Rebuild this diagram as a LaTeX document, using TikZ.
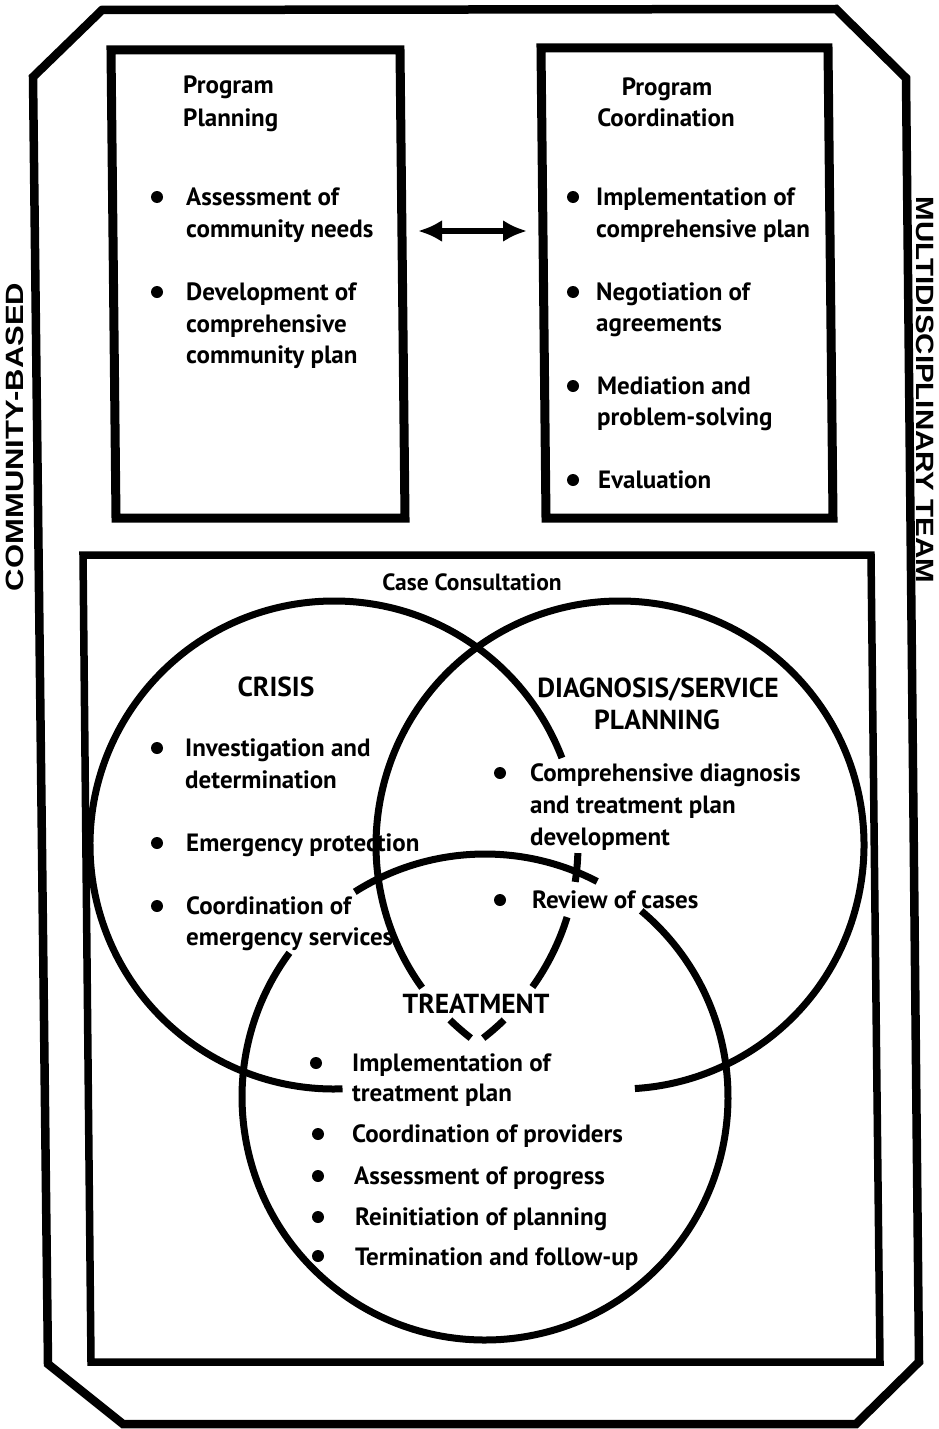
\documentclass[tikz,border=0pt]{standalone}
\usepackage{fontspec}
\usepackage{graphicx}
\setmainfont{PT Sans}
\newfontfamily\sidefam{Liberation Sans}
\usetikzlibrary{arrows.meta,calc}
\newcommand\bodyf{\bfseries\fontsize{25}{29}\selectfont}
\newcommand\smallf{\bfseries\fontsize{23.5}{27}\selectfont}
\newcommand\capf{\bfseries\fontsize{27.5}{31}\selectfont}
\newcommand\sidef{\sidefam\bfseries\fontsize{25}{29}\selectfont}
\tikzset{
  outerline/.style={line width=8.5pt, line join=miter},
  pbox/.style={line width=9pt, line join=miter},
  cbox/.style={line width=7.5pt, line join=miter},
  circ/.style={line width=7pt, line cap=butt},
  bul/.style={circle, fill=black, inner sep=0pt, minimum size=12pt},
  tx/.style={anchor=base west, inner sep=0pt, font=\bodyf},
  hc/.style={anchor=base, inner sep=0pt, font=\bodyf},
  capc/.style={anchor=base, inner sep=0pt, font=\capf},
  sidelab/.style={inner sep=0pt, font=\sidef},
  arr/.style={line width=5.5pt, {Latex[length=24pt,width=22pt]}-{Latex[length=24pt,width=22pt]}}
}
\begin{document}
\begin{tikzpicture}[x=1pt,y=-1pt]
\useasboundingbox (0,0) rectangle (938,1429);
\fill[white] (0,0) rectangle (938,1429);

% outer octagon
\draw[outerline] (102,10) -- (836,9) -- (906,78) -- (919,1362) -- (856,1424) -- (123,1424) -- (48,1364) -- (33,77) -- cycle;

% program boxes
\draw[pbox] (111,50) -- (400,50) -- (405,518) -- (116,518) -- cycle;
\draw[pbox] (541,48) -- (828,48) -- (833,518) -- (546,518) -- cycle;

% case box
\draw[cbox] (83,555) -- (871,555) -- (880,1362) -- (91,1362) -- cycle;

% side labels
\node[sidelab, rotate=90] (sl) at (15,437) {\scalebox{1.24}[1]{COMMUNITY-BASED}};
\node[sidelab, rotate=-90] (sr) at (925,390) {\scalebox{1.18}[1]{MULTIDISCIPLINARY TEAM}};

% Program Planning
\node[tx] (pp1) at (183,93) {Program};
\node[tx] (pp2) at (183,126) {Planning};
\node[bul] (b11) at (157,197) {};
\node[tx] (t11a) at (186,205) {Assessment of};
\node[tx] (t11b) at (186,237) {community needs};
\node[bul] (b12) at (157,292) {};
\node[tx] (t12a) at (186,300) {Development of};
\node[tx] (t12b) at (186,332) {comprehensive};
\node[tx] (t12c) at (186,363) {community plan};

% Program Coordination
\node[hc] (pc1) at (667,95) {Program};
\node[hc] (pc2) at (666,126) {Coordination};
\node[bul] (b21) at (573,197) {};
\node[tx] (t21a) at (596,205) {Implementation of};
\node[tx] (t21b) at (596,237) {comprehensive plan};
\node[bul] (b22) at (573,292) {};
\node[tx] (t22a) at (596,300) {Negotiation of};
\node[tx] (t22b) at (596,331) {agreements};
\node[bul] (b23) at (573,386) {};
\node[tx] (t23a) at (597,394) {Mediation and};
\node[tx] (t23b) at (597,425) {problem-solving};
\node[bul] (b24) at (573,480) {};
\node[tx] (t24a) at (598,488) {Evaluation};

% arrow
\coordinate (arL) at (418,231);
\coordinate (arR) at (527,231);
\draw[arr] (arL) -- (arR);

% Case consultation
\node[hc, font=\smallf] (cc) at (472,590) {Case Consultation};

% circles
\coordinate (c1) at (334,845);
\coordinate (c2) at (620,845);
\coordinate (c3) at (485,1097);
% crisis
\draw[circ] ($(c1)+(-54:244)$) arc[start angle=-54, end angle=-272, radius=244];
\draw[circ] ($(c1)+(-54:244)$) arc[start angle=-54, end angle=-20.9, radius=244];
\draw[circ] ($(c1)+(1.9:244)$) arc[start angle=1.9, end angle=8.7, radius=244];
\draw[circ] ($(c1)+(17.2:244)$) arc[start angle=17.2, end angle=35.6, radius=244];
\draw[circ] ($(c1)+(45.8:244)$) arc[start angle=45.8, end angle=52.3, radius=244];
% diagnosis
\draw[circ] ($(c2)+(-126:244)$) arc[start angle=-126, end angle=86.5, radius=244];
\draw[circ] ($(c2)+(-126:244)$) arc[start angle=-126, end angle=-215.8, radius=244];
\draw[circ] ($(c2)+(134.2:244)$) arc[start angle=134.2, end angle=127.7, radius=244];
% treatment
\draw[circ] ($(c3)+(-122.4:243)$) arc[start angle=-122.4, end angle=-62.5, radius=243];
\draw[circ] ($(c3)+(-50:243)$) arc[start angle=-50, end angle=216.4, radius=243];

% Crisis
\node[capc] (ch) at (276,696) {CRISIS};
\node[bul] (b31) at (157,748) {};
\node[tx] (t31a) at (185,756) {Investigation and};
\node[tx] (t31b) at (185,788) {determination};
\node[bul] (b32) at (157,843) {};
\node[tx] (t32a) at (186,851) {Emergency protection};
\node[bul] (b33) at (157,906) {};
\node[tx] (t33a) at (186,914) {Coordination of};
\node[tx] (t33b) at (186,945) {emergency services};

% Diagnosis
\node[capc] (dh1) at (658,697) {DIAGNOSIS/SERVICE};
\node[capc] (dh2) at (657,729) {PLANNING};
\node[bul] (b41) at (500,773) {};
\node[tx] (t41a) at (530,781) {Comprehensive diagnosis};
\node[tx] (t41b) at (530,813) {and treatment plan};
\node[tx] (t41c) at (530,845) {development};
\node[bul] (b42) at (500,900) {};
\node[tx] (t42a) at (532,908) {Review of cases};

% Treatment
\node[capc] (th) at (476,1013) {TREATMENT};
\node[bul] (b51) at (316,1063) {};
\node[tx] (t51a) at (352,1071) {Implementation of};
\node[tx] (t51b) at (352,1101) {treatment plan};
\node[bul] (b52) at (318,1134) {};
\node[tx] (t52a) at (352,1142) {Coordination of providers};
\node[bul] (b53) at (318,1176) {};
\node[tx] (t53a) at (354,1184) {Assessment of progress};
\node[bul] (b54) at (318,1217) {};
\node[tx] (t54a) at (355,1225) {Reinitiation of planning};
\node[bul] (b55) at (318,1256) {};
\node[tx] (t55a) at (355,1265) {Termination and follow-up};
\end{tikzpicture}
\end{document}
